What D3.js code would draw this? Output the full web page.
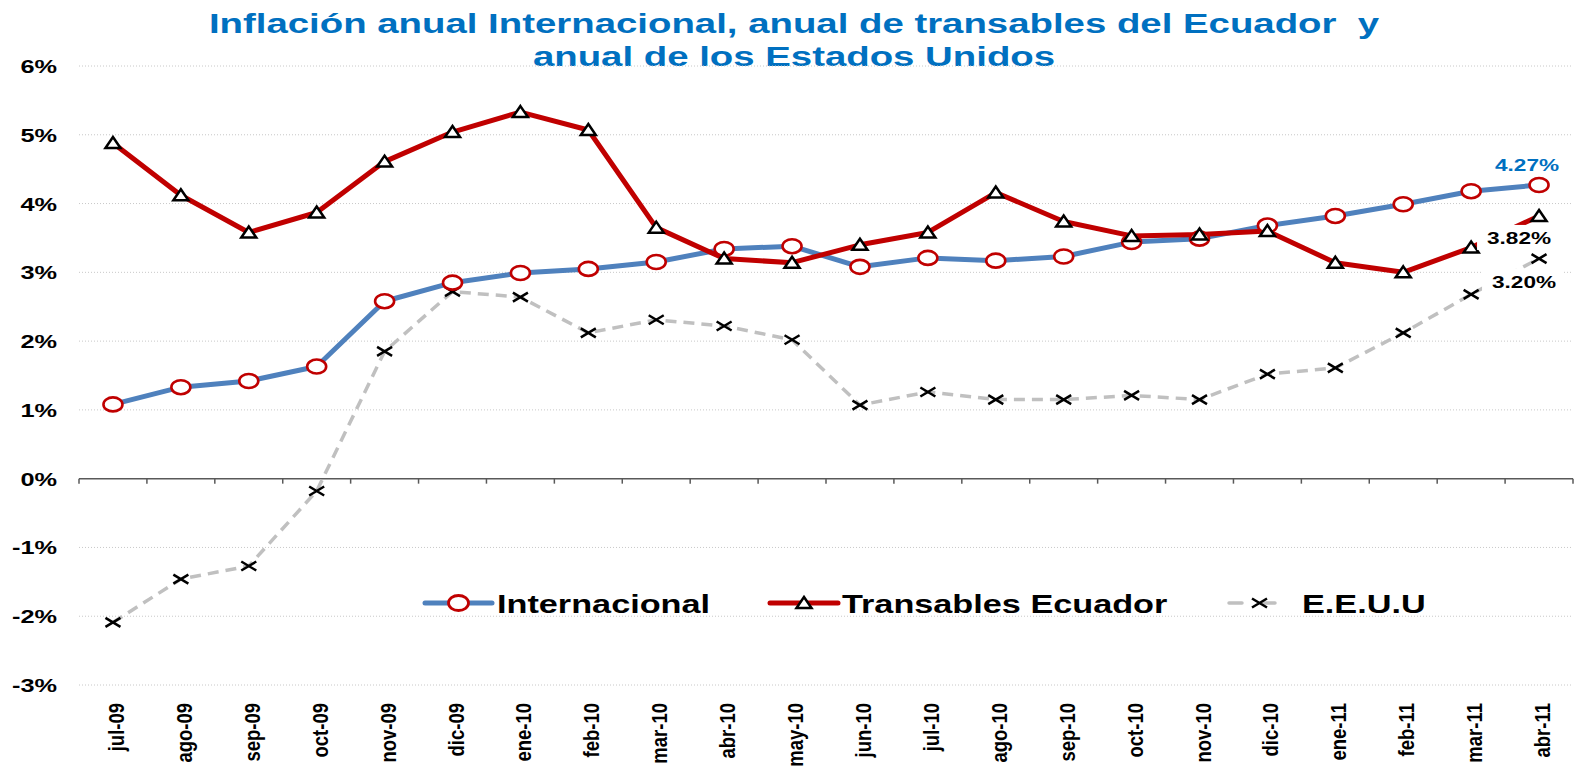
<!DOCTYPE html>
<html>
<head>
<meta charset="utf-8">
<script src="https://cdn.jsdelivr.net/npm/d3@7"></script>
<style>
  body { margin: 0; background: #fff; }
  svg { font-family: "Liberation Sans", Arial, sans-serif; }
  text { white-space: pre; }
</style>
</head>
<body>
<svg width="1577" height="768"></svg>
<script>
// Month labels on the x axis
const months = ["jul-09","ago-09","sep-09","oct-09","nov-09","dic-09","ene-10","feb-10","mar-10","abr-10",
  "may-10","jun-10","jul-10","ago-10","sep-10","oct-10","nov-10","dic-10","ene-11","feb-11","mar-11","abr-11"];

// Series values (percent)
const internacional = [1.08,1.33,1.42,1.63,2.58,2.85,2.99,3.05,3.15,3.34,3.38,3.08,3.21,3.17,3.23,3.44,3.49,3.68,3.82,3.99,4.18,4.27];
const transables = [4.88,4.12,3.58,3.87,4.61,5.04,5.33,5.07,3.65,3.20,3.14,3.40,3.58,4.16,3.74,3.53,3.55,3.60,3.14,3.00,3.36,3.82];
const eeuu = [-2.09,-1.46,-1.27,-0.18,1.85,2.72,2.64,2.12,2.31,2.22,2.02,1.07,1.26,1.15,1.15,1.21,1.15,1.52,1.61,2.12,2.68,3.20];

// Y axis ticks
const yTicks = [-3,-2,-1,0,1,2,3,4,5,6];

const svg = d3.select("svg");
const plotLeft = 79, plotRight = 1573, plotTop = 66, plotBottom = 685;
const SX = 1.37; // the original chart is stretched horizontally

const x = d3.scalePoint().domain(months).range([plotLeft, plotRight]).padding(0.5);
const band = (plotRight - plotLeft) / months.length;
const y = d3.scaleLinear().domain([-3, 6]).range([plotBottom, plotTop]);

// text helper: places a horizontally stretched label
function label(parent, tx, ty, str, size, anchor, color) {
  return parent.append("text")
    .attr("transform", `translate(${tx},${ty}) scale(${SX},1)`)
    .attr("text-anchor", anchor).attr("font-size", size).attr("font-weight", "bold")
    .attr("fill", color).text(str);
}

// Title
label(svg, 794, 33, "Inflación anual Internacional, anual de transables del Ecuador  y", 28, "middle", "#0070C0");
label(svg, 794, 66, "anual de los Estados Unidos", 28, "middle", "#0070C0");

// Gridlines (dotted)
svg.append("g").selectAll("line").data(yTicks.filter(d => d !== 0)).join("line")
  .attr("x1", plotLeft).attr("x2", plotRight)
  .attr("y1", d => y(d)).attr("y2", d => y(d))
  .attr("stroke", "#c8c8c8").attr("stroke-width", 1).attr("stroke-dasharray", "1,2");

// Y tick labels
const yLab = svg.append("g");
yTicks.forEach(d => label(yLab, 57, y(d) + 7, d + "%", 18.5, "end", "#000"));

// Zero axis line with tick marks between categories
const zeroAxis = svg.append("g");
zeroAxis.append("line").attr("x1", plotLeft).attr("x2", plotRight)
  .attr("y1", y(0)).attr("y2", y(0)).attr("stroke", "#595959").attr("stroke-width", 1.5);
zeroAxis.selectAll("line.tick").data(d3.range(months.length + 1)).join("line")
  .attr("class", "tick")
  .attr("x1", i => plotLeft + i * band).attr("x2", i => plotLeft + i * band)
  .attr("y1", y(0)).attr("y2", y(0) + 5)
  .attr("stroke", "#595959").attr("stroke-width", 1.5);

// X labels, rotated (glyphs widened across the text direction)
svg.append("g").selectAll("text").data(months).join("text")
  .attr("transform", d => `translate(${x(d) + 11},703) rotate(-90) scale(1,1.22)`)
  .attr("text-anchor", "end").attr("font-size", 18.5).attr("font-weight", "bold")
  .attr("fill", "#000").text(d => d);

const line = d3.line().x((d, i) => x(months[i])).y(d => y(d));

// Lines
svg.append("path").datum(eeuu).attr("d", line).attr("fill", "none")
  .attr("stroke", "#c0c0c0").attr("stroke-width", 3.5).attr("stroke-dasharray", "11,7");
svg.append("path").datum(internacional).attr("d", line).attr("fill", "none")
  .attr("stroke", "#4F81BD").attr("stroke-width", 5).attr("stroke-linejoin", "round");
svg.append("path").datum(transables).attr("d", line).attr("fill", "none")
  .attr("stroke", "#C00000").attr("stroke-width", 5).attr("stroke-linejoin", "round");

// Marker shapes
const triPath = "M0,-6L7.5,5L-7.5,5Z";
const crossPath = "M-7.5,-4.5L7.5,4.5M7.5,-4.5L-7.5,4.5";

// Markers
svg.append("g").selectAll("path").data(eeuu).join("path")
  .attr("transform", (d, i) => `translate(${x(months[i])},${y(d)})`)
  .attr("d", crossPath).attr("stroke", "#000").attr("stroke-width", 2.5).attr("fill", "none");
svg.append("g").selectAll("ellipse").data(internacional).join("ellipse")
  .attr("cx", (d, i) => x(months[i])).attr("cy", d => y(d)).attr("rx", 9.5).attr("ry", 7)
  .attr("fill", "#fff").attr("stroke", "#C00000").attr("stroke-width", 2.6);
svg.append("g").selectAll("path").data(transables).join("path")
  .attr("transform", (d, i) => `translate(${x(months[i])},${y(d)})`)
  .attr("d", triPath).attr("fill", "#fff").attr("stroke", "#000").attr("stroke-width", 2.5);

// Data labels for last point
const last = months.length - 1;
const lx = x(months[last]);
label(svg, lx - 12, y(internacional[last]) - 14, internacional[last].toFixed(2) + "%", 16.5, "middle", "#0070C0");

[[transables[last], 28, -20, -62, 83], [eeuu[last], 29, -15, -57, 82]].forEach(([v, dy, dx, bx, bw]) => {
  const ty = y(v) + dy;
  svg.append("rect").attr("x", lx + bx).attr("y", ty - 19).attr("width", bw).attr("height", 25)
    .attr("fill", "#fff");
  label(svg, lx + dx, ty, v.toFixed(2) + "%", 16.5, "middle", "#000");
});

// Legend
const legend = svg.append("g").attr("transform", "translate(0,603)");
const items = [
  {name: "Internacional", x0: 425, x1: 492, tx: 497, color: "#4F81BD", dash: null, marker: "circle"},
  {name: "Transables Ecuador", x0: 770, x1: 838, tx: 842, color: "#C00000", dash: null, marker: "tri"},
  {name: "E.E.U.U", x0: 1229, x1: 1290, tx: 1302, color: "#c0c0c0", dash: "13,20", marker: "cross"}
];
items.forEach(it => {
  const g = legend.append("g");
  g.append("line").attr("x1", it.x0).attr("x2", it.x1).attr("y1", 0).attr("y2", 0)
    .attr("stroke", it.color).attr("stroke-width", it.dash ? 3.5 : 5)
    .attr("stroke-linecap", "round").attr("stroke-dasharray", it.dash);
  const cx = (it.x0 + it.x1) / 2;
  if (it.marker === "circle") {
    g.append("ellipse").attr("cx", cx).attr("cy", 0).attr("rx", 10).attr("ry", 7.5)
      .attr("fill", "#fff").attr("stroke", "#C00000").attr("stroke-width", 2.8);
  } else if (it.marker === "tri") {
    g.append("path").attr("transform", `translate(${cx},0)`).attr("d", triPath)
      .attr("fill", "#fff").attr("stroke", "#000").attr("stroke-width", 2.5);
  } else {
    g.append("path").attr("transform", `translate(${cx},0)`).attr("d", crossPath)
      .attr("stroke", "#000").attr("stroke-width", 2.5);
  }
  label(g, it.tx, 10, it.name, 25, "start", "#000");
});
</script>
</body>
</html>
